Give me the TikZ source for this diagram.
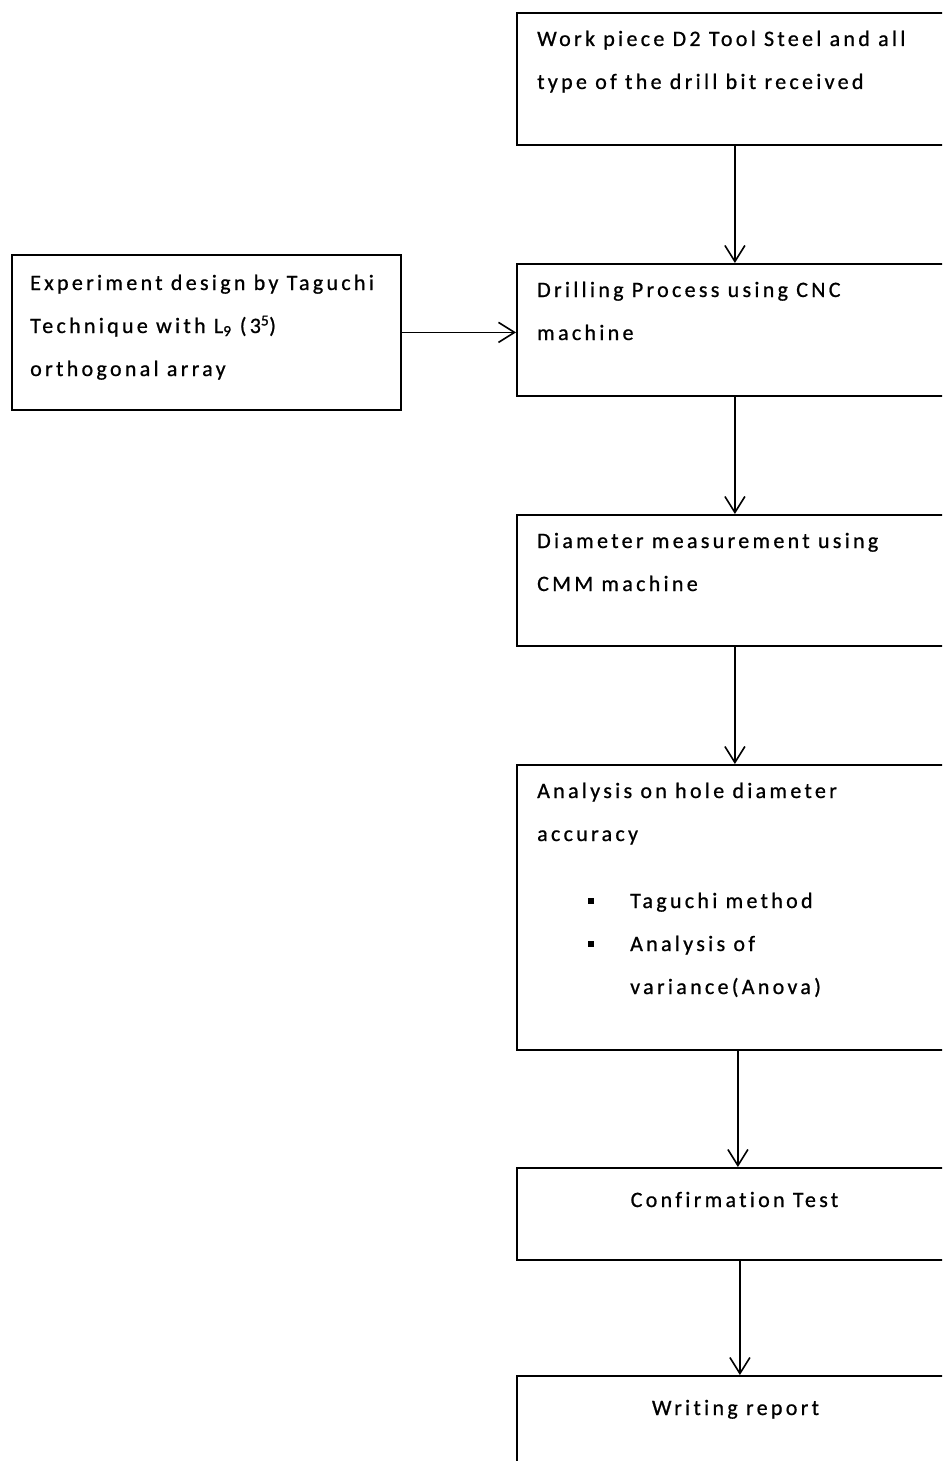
\documentclass[tikz,border=0pt]{standalone}
\usepackage{fontspec}
\setmainfont{Carlito}[LetterSpace=15,FakeBold=0.8,Ligatures=NoCommon]
\usetikzlibrary{arrows.meta}
\begin{document}
\begin{tikzpicture}[x=1pt,y=-1pt,
  box/.style={draw, line width=1.8pt, minimum width=436pt, inner sep=0pt, anchor=north west},
  txt/.style={anchor=base west, inner sep=0pt, font=\fontsize{22}{24}\selectfont},
  ctxt/.style={anchor=base, inner sep=0pt, font=\fontsize{22}{24}\selectfont},
  arr/.style={line width=1.6pt, -{Straight Barb[length=16pt,width=20pt,line width=1.6pt]}},
  bul/.style={fill, minimum size=6pt, inner sep=0pt}]
\useasboundingbox (0,0) rectangle (942,1461);
\clip (0,0) rectangle (942,1461);
% boxes
\node[box, minimum height=132pt] (b1) at (516,12) {};
\node[box, minimum height=132pt] (b2) at (516,263) {};
\node[box, minimum height=131pt] (b3) at (516,514) {};
\node[box, minimum height=285pt] (b4) at (516,764) {};
\node[box, minimum height=92pt] (b5) at (516,1167) {};
\node[box, minimum height=120pt] (b6) at (516,1375) {};
\node[box, minimum width=389pt, minimum height=155pt] (L) at (11,254) {};
% texts
\node[txt] (t1a) at (537,46) {Work piece D2 Tool Steel and all};
\node[txt] (t1b) at (537,89) {type of the drill bit received};
\node[txt] (t2a) at (537,297) {Drilling Process using CNC};
\node[txt] (t2b) at (537,340) {machine};
\node[txt] (t3a) at (537,548) {Diameter measurement using};
\node[txt] (t3b) at (537,591) {CMM machine};
\node[txt] (t4a) at (537,798) {Analysis on hole diameter};
\node[txt] (t4b) at (537,841) {accuracy};
\node[bul] (k1) at (590.5,901) {};
\node[bul] (k2) at (590.5,944) {};
\node[txt] (t4c) at (630,908) {Taguchi method};
\node[txt] (t4d) at (630,951) {Analysis of};
\node[txt] (t4e) at (630,994) {variance(Anova)};
\node[ctxt] (t5) at (734.5,1207) {Confirmation Test};
\node[ctxt] (t6) at (735.5,1415) {Writing report};
\node[txt] (La) at (30,290) {Experiment design by Taguchi};
\node[txt] (Lb) at (30,333) {Technique with L\textsubscript{9} (3\textsuperscript{5})};
\node[txt] (Lc) at (30,376) {orthogonal array};
% arrows
\draw[arr] (b1.south) -- (b2.north);
\draw[arr] (b2.south) -- (b3.north);
\draw[arr] (b3.south) -- (b4.north);
\draw[arr] ([xshift=3pt]b4.south) -- ([xshift=3pt]b5.north);
\draw[arr] ([xshift=5pt]b5.south) -- ([xshift=5pt]b6.north);
\draw[arr] (L.east) -- (L.east -| b2.west);
\end{tikzpicture}
\end{document}
